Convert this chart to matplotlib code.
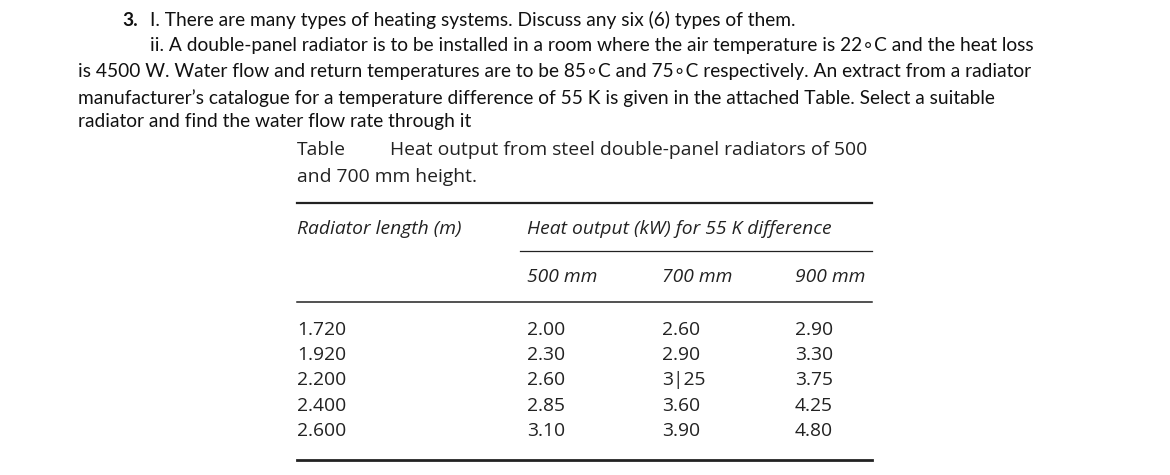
import matplotlib
matplotlib.use("Agg")
import matplotlib.pyplot as plt

lengths = ["1.720", "1.920", "2.200", "2.400", "2.600"]
h500 = ["2.00", "2.30", "2.60", "2.85", "3.10"]
h700 = ["2.60", "2.90", "3|25", "3.60", "3.90"]
h900 = ["2.90", "3.30", "3.75", "4.25", "4.80"]
col_heads = ["500 mm", "700 mm", "900 mm"]

fig = plt.figure(figsize=(11.7, 4.75), dpi=100)
ax = fig.add_axes([0, 0, 1, 1])
ax.set_xlim(0, 1170); ax.set_ylim(475, 0); ax.axis("off")

def pt(px): return px * 72 / 100
F = ["Lato", "DejaVu Sans"]
fs = pt(19.2)
def t(x, y, s, **kw):
    kw.setdefault("fontsize", fs); kw.setdefault("family", F)
    ax.text(x, y, s, va="center", ha="left", color="#111", **kw)

t(122, 20, "3.", weight="bold")
t(150, 20, "I. There are many types of heating systems. Discuss any six (6) types of them.")
t(150, 46, "ii. A double-panel radiator is to be installed in a room where the air temperature is 22∘C and the heat loss")
t(78, 72, "is 4500 W. Water flow and return temperatures are to be 85∘C and 75∘C respectively. An extract from a radiator")
t(78, 98, "manufacturer’s catalogue for a temperature difference of 55 K is given in the attached Table. Select a suitable")
t(78, 122, "radiator and find the water flow rate through it")

TF = ["Open Sans", "DejaVu Sans"]; tfs = pt(19.3)
def tt(x, y, s, **kw):
    ax.text(x, y, s, va="center", family=TF, fontsize=tfs, color="#222", **kw)

tt(297, 150, "Table")
tt(390, 150, "Heat output from steel double-panel radiators of 500")
tt(297, 177, "and 700 mm height.")
ax.plot([297, 872], [203, 203], color="#222", lw=1.6)
tt(297, 229, "Radiator length (m)", style="italic")
tt(527, 229, "Heat output (kW) for 55 K difference", style="italic")
ax.plot([520, 872], [251, 251], color="#222", lw=0.9)
for x, h in zip([527, 662, 795], col_heads):
    tt(x, 277, h, style="italic")
ax.plot([297, 872], [302, 302], color="#222", lw=1.1)
for i in range(len(lengths)):
    y = 330 + i * 25.2
    tt(297, y, lengths[i]); tt(527, y, h500[i]); tt(662, y, h700[i]); tt(795, y, h900[i])
ax.plot([297, 872], [460, 460], color="#222", lw=2)
fig.savefig("out.png", dpi=100, facecolor="white")
